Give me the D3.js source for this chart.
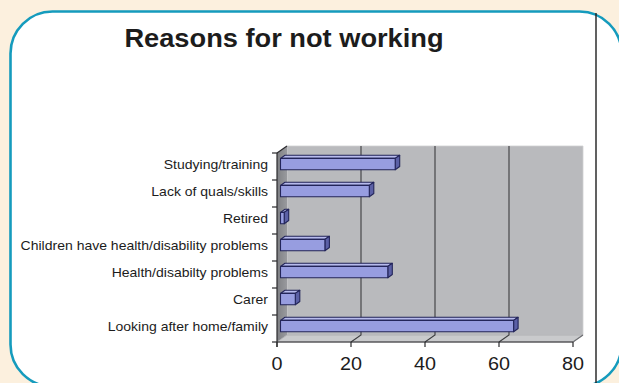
<!DOCTYPE html>
<html>
<head>
<meta charset="utf-8">
<script src="https://cdn.jsdelivr.net/npm/d3@7"></script>
<style>
  html, body { margin: 0; padding: 0; background: #fcf0de; }
  svg { display: block; }
  text { font-family: "Liberation Sans", Arial, Helvetica, sans-serif; fill: #1c1c1c; }
</style>
</head>
<body>
<svg id="chart" width="619" height="383"></svg>
<script>
// Chart data
const title = "Reasons for not working";
const categories = [
  "Studying/training",
  "Lack of quals/skills",
  "Retired",
  "Children have health/disability problems",
  "Health/disabilty problems",
  "Carer",
  "Looking after home/family"
];
const values = [31, 24, 1, 12, 29, 4, 63];
const xTicks = [0, 20, 40, 60, 80];

const W = 619, H = 383;
const svg = d3.select("#chart");

// Card background with rounded teal border
svg.append("rect")
  .attr("x", 10.5).attr("y", 11.5)
  .attr("width", 611).attr("height", 375)
  .attr("rx", 42).attr("ry", 42)
  .attr("fill", "#ffffff")
  .attr("stroke", "#159bbd")
  .attr("stroke-width", 2.6);

// Thin vertical rule on the right of the chart object
svg.append("line")
  .attr("x1", 596).attr("x2", 596)
  .attr("y1", 13).attr("y2", H)
  .attr("stroke", "#1e1e1e").attr("stroke-width", 1.4);

// Front-plane scales
const x = d3.scaleLinear().domain([0, 80]).range([277, 573]);
const y = d3.scaleBand().domain(categories).range([153, 342]).padding(0);

// Depth of the 3D box (offset from front plane to back wall)
const DX = 10, DY = -7;
// Bars occupy part of the depth
const f0 = 0.35, f1 = 0.8;
const bx0 = DX * f0, by0 = DY * f0;
const bdx = DX * (f1 - f0), bdy = DY * (f1 - f0);

const x0 = x(0), x1 = x(80);
const yTop = y.range()[0], yBot = y.range()[1];

const pts = a => a.map(p => p.join(",")).join(" ");

// Back wall
svg.append("polygon")
  .attr("points", pts([[x0 + DX, yTop + DY], [x1 + DX, yTop + DY], [x1 + DX, yBot + DY], [x0 + DX, yBot + DY]]))
  .attr("fill", "#b9babd")
  .attr("stroke", "#cfd0d2").attr("stroke-width", 0.8);

// Left side wall
const wallGrad = svg.append("defs").append("linearGradient")
  .attr("id", "wallGrad").attr("x1", 0).attr("x2", 1).attr("y1", 0).attr("y2", 0);
wallGrad.append("stop").attr("offset", 0).attr("stop-color", "#7f8084");
wallGrad.append("stop").attr("offset", 1).attr("stop-color", "#999a9e");
svg.append("polygon")
  .attr("points", pts([[x0, yTop], [x0 + DX, yTop + DY], [x0 + DX, yBot + DY], [x0, yBot]]))
  .attr("fill", "url(#wallGrad)");

// Floor
svg.append("polygon")
  .attr("points", pts([[x0, yBot], [x0 + DX, yBot + DY], [x1 + DX, yBot + DY], [x1, yBot]]))
  .attr("fill", "#c9cacc")
  .attr("stroke", "#a9aaad").attr("stroke-width", 0.8);

// Gridlines: across the floor, then up the back wall
const grid = svg.append("g").attr("stroke", "#3c3d40").attr("stroke-width", 1.1).attr("fill", "none");
xTicks.filter(v => v > 0 && v < 80).forEach(v => {
  grid.append("polyline")
    .attr("points", pts([[x(v), yBot], [x(v) + DX, yBot + DY], [x(v) + DX, yTop + DY]]));
});
// Right floor edge
grid.append("line")
  .attr("x1", x1).attr("y1", yBot).attr("x2", x1 + DX).attr("y2", yBot + DY)
  .attr("stroke", "#6d6e72");

// Value axis along the front edge of the floor
const axisG = svg.append("g").attr("stroke", "#2a2a2d").attr("stroke-width", 1.2);
axisG.append("line").attr("x1", x0).attr("x2", x1).attr("y1", yBot).attr("y2", yBot);
xTicks.forEach(v => {
  axisG.append("line").attr("x1", x(v)).attr("x2", x(v)).attr("y1", yBot).attr("y2", yBot + 5);
});

// Category axis on the front-left edge
axisG.append("line").attr("x1", x0).attr("x2", x0).attr("y1", yTop).attr("y2", yBot + 5);
axisG.append("line").attr("x1", x0).attr("y1", yTop).attr("x2", x0 + DX).attr("y2", yTop + DY);
const bounds = categories.map(c => y(c)).concat([yBot]);
bounds.forEach(b => {
  axisG.append("line").attr("x1", x0 - 5).attr("x2", x0).attr("y1", b).attr("y2", b);
});

// 3D bars
const barH = y.bandwidth() * 0.42;
const barsG = svg.append("g").attr("stroke", "#23255a").attr("stroke-width", 1.1).attr("stroke-linejoin", "round");
categories.forEach((c, i) => {
  const v = values[i];
  const cy = y(c) + y.bandwidth() / 2 + by0;
  const xa = x(0) + bx0, xb = x(v) + bx0;
  const ya = cy - barH / 2, yb = cy + barH / 2;
  const g = barsG.append("g");
  // top face
  g.append("polygon")
    .attr("points", pts([[xa, ya], [xa + bdx, ya + bdy], [xb + bdx, ya + bdy], [xb, ya]]))
    .attr("fill", "#b7bbed");
  // end face
  g.append("polygon")
    .attr("points", pts([[xb, ya], [xb + bdx, ya + bdy], [xb + bdx, yb + bdy], [xb, yb]]))
    .attr("fill", "#5b60a6");
  // front face
  g.append("rect")
    .attr("x", xa).attr("y", ya)
    .attr("width", Math.max(xb - xa, 0.5)).attr("height", barH)
    .attr("fill", "#979de0");
});

// Category labels (slightly widened type)
const labG = svg.append("g");
categories.forEach(c => {
  labG.append("text")
    .attr("transform", `translate(268,${y(c) + y.bandwidth() / 2 - 1.5}) scale(1.12,1)`)
    .attr("text-anchor", "end")
    .attr("dy", "0.35em")
    .style("font-size", "12.5px")
    .text(c);
});

// Value tick labels
xTicks.forEach(v => {
  svg.append("text")
    .attr("transform", `translate(${x(v)},370) scale(1.1,1)`)
    .attr("text-anchor", "middle")
    .style("font-size", "18px")
    .text(v);
});

// Title
svg.append("text")
  .attr("transform", "translate(284,47) scale(1.09,1)")
  .attr("text-anchor", "middle")
  .style("font-size", "25px")
  .style("font-weight", "bold")
  .text(title);
</script>
</body>
</html>
